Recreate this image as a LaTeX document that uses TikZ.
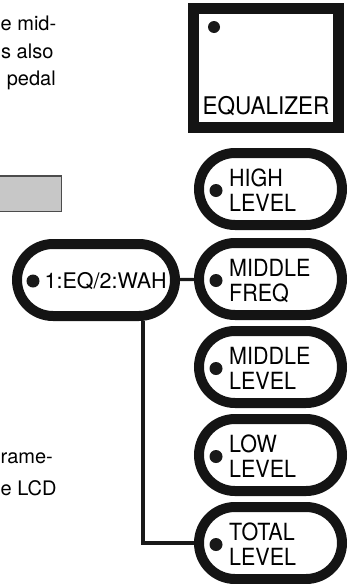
\documentclass[tikz,border=0pt]{standalone}
\usepackage{graphicx}
\usepackage{fontspec}
\setmainfont{TeX Gyre Heros}
\newcommand{\twoline}[2]{\scalebox{1}[1.1]{\begin{tabular}{@{}l@{}}#1\\#2\end{tabular}}}
\begin{document}
\begin{tikzpicture}[x=1pt,y=-1pt,
  pill/.style={draw=black!92,line width=10pt,rounded corners=36pt,minimum width=143pt,minimum height=72pt,inner sep=0pt},
  ledot/.style={circle,fill=black!90,inner sep=0pt,minimum size=13pt},
  plabel/.style={anchor=west,inner sep=0pt,font=\fontsize{21.5}{22.5}\selectfont},
  bodyr/.style={anchor=base east,inner sep=0pt,font=\fontsize{20}{24}\selectfont},
  bodyl/.style={anchor=base west,inner sep=0pt,font=\fontsize{20}{24}\selectfont},
  conn/.style={draw=black!90,line width=3.2pt}]
\useasboundingbox (0,0) rectangle (349,584);
% text fragments
\node[bodyl] (t1) at (0.5,30) {e mid-};
\node[bodyl] (t2) at (1,58) {s also};
\node[bodyr] (t3) at (56,85) {pedal};
\node[bodyl] (t4) at (0.5,463) {rame-};
\node[bodyl] (t5) at (0.5,495) {e LCD};
% gray bar
\path[fill=black!22,draw=black!70,line width=1.2pt] (-2,176) rectangle (61.5,211.5);
% equalizer box
\node[draw=black!92,line width=10.5pt,minimum width=145pt,minimum height=119pt,inner sep=0pt] (eqbox) at (266,68) {};
\node[ledot,minimum size=12pt] (eqdot) at (214,27) {};
\node[inner sep=0pt,font=\fontsize{22.5}{24}\selectfont] (eqtxt) at (266,106) {\scalebox{1}[1.08]{EQUALIZER}};
% pills
\node[pill] (high) at (270.5,189) {};
\node[pill] (mf) at (270.5,279) {};
\node[pill] (ml) at (270.5,367) {};
\node[pill] (ll) at (270.5,455) {};
\node[pill] (tl) at (270.5,543) {};
\node[pill,minimum width=158pt] (eqwah) at (96,280) {};
% dots and labels
\foreach \n/\y/\a/\b in {high/189/HIGH/LEVEL, mf/279/MIDDLE/FREQ, ml/367/MIDDLE/LEVEL, ll/455/LOW/LEVEL, tl/543/TOTAL/LEVEL}{
  \node[ledot] (\n dot) at (216,\y+1.5) {};
  \node[plabel] (\n txt) at (229,\y+5) {\twoline{\a}{\b}};
}
\node[ledot] (eqwahdot) at (33,281) {};
\node[anchor=west,inner sep=0pt,font=\fontsize{21.5}{24}\selectfont] (eqwahtxt) at (44.5,281) {1:EQ/2:WAH};
% connectors
\coordinate (drop) at (143,280);
\draw[conn] (eqwah) -- (mf);
\draw[conn] (drop |- eqwah.south) |- (tl.west);
\end{tikzpicture}
\end{document}
